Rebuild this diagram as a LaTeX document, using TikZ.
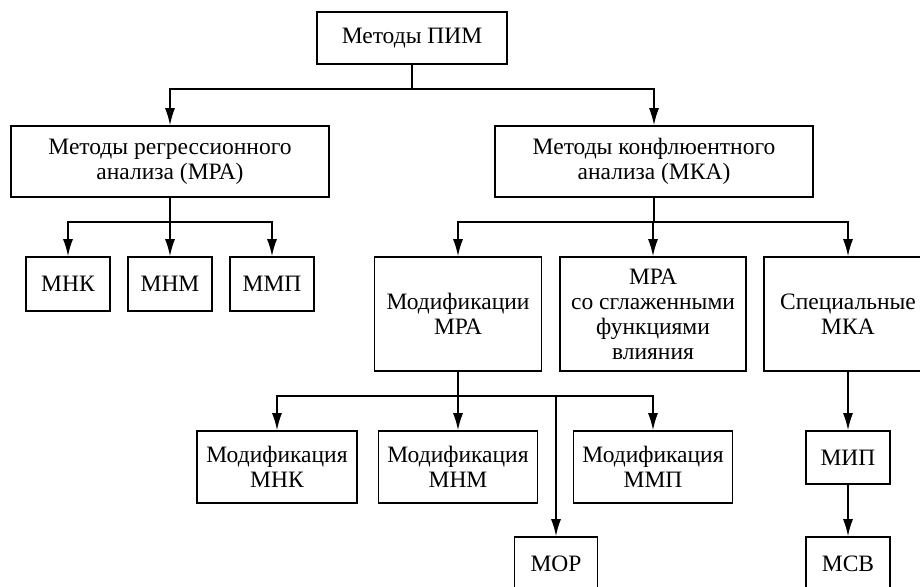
\documentclass[tikz,border=0pt]{standalone}
\usepackage{fontspec}
\setmainfont{Liberation Serif}
\usetikzlibrary{arrows.meta}
\begin{document}
\begin{tikzpicture}
[x=1pt,y=-1pt,
  boxdecorate/.style={shape=rectangle,draw,line width=1.7pt,inner sep=2pt,
    align=center,font=\fontsize{23.5}{25}\selectfont},%
  linedecorate/.style={-{Latex[length=17pt,width=10pt]},line width=1.4pt}]
\useasboundingbox (0,0) rectangle (920,586);
\clip (0,0) rectangle (920,586);
%% nodes or boxes
\foreach \nodename/\x/\y/\w/\h/\txt in {
  pim/412/38/190/52/{Методы ПИМ},
  mra/170/161.5/318/71/{Методы регрессионного\\анализа (МРА)},
  mka/654/161.5/318/71/{Методы конфлюентного\\анализа (МКА)},
  mnk/68/284/84/54/{МНК},
  mnm/170/284/84/54/{МНМ},
  mmp/272/284/84/54/{ММП},
  modmra/458/314/167/114/{Модификации\\МРА},
  mrasg/653/314/186/114/{МРА\\со сглаженными\\функциями\\влияния},
  spec/848/314/168/114/{Специальные\\МКА},
  modmnk/277/467/160/72/{Модификация\\МНК},
  modmnm/458/467/159/72/{Модификация\\МНМ},
  modmmp/653/467/159/72/{Модификация\\ММП},
  mor/556/564/83/54/{МОР},
  mip/848/457.5/84/53/{МИП},
  msv/848/564/84/54/{МСВ}} {
  \node (\nodename) at (\x,\y) [boxdecorate,minimum width=\w pt,minimum height=\h pt] {\txt};
}
%% edges or lines
\foreach \startnode/\endnode in {pim/mra, pim/mka, mra/mnk, mra/mnm, mra/mmp,
  mka/modmra, mka/mrasg, mka/spec, modmra/modmnk, modmra/modmnm, modmra/modmmp,
  modmra/mor, spec/mip, mip/msv} {
  \draw[linedecorate] (\startnode.south) -- ++(0,24) -| (\endnode.north);
}
\end{tikzpicture}
\end{document}
